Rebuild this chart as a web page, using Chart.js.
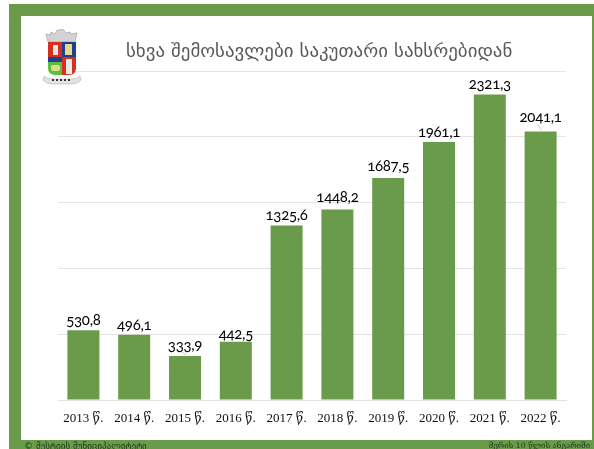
<!DOCTYPE html>
<html lang="ka"><head><meta charset="utf-8">
<script src="https://cdn.jsdelivr.net/npm/chart.js@4"></script>
<style>
html,body{margin:0;padding:0;background:#fff;width:594px;height:449px;overflow:hidden}
#frame{position:absolute;left:9px;top:4px;width:585px;height:445px;background:#699b4b}
#inner{position:absolute;left:21px;top:16px;width:571px;height:424px;background:#fff}
canvas{position:absolute;left:0;top:0;font-feature-settings:"onum" 1;font-variant-numeric:oldstyle-nums}
.t{position:absolute;white-space:nowrap}
#title{left:126px;top:39px;font:18.9px "DejaVu Sans";color:#595959}
#fl{left:24px;top:441px;font:9.1px "DejaVu Sans";color:#263a1c;height:8px;overflow:hidden}
#fr{right:4px;top:441px;font:7.8px "DejaVu Serif","DejaVu Sans";color:#263a1c;height:8px;overflow:hidden}
#crest{position:absolute;left:42px;top:29px}
</style></head><body>
<div id="frame"></div><div id="inner"></div>
<canvas id="c" width="594" height="449"></canvas>
<svg id="crest" width="40" height="56" viewBox="0 0 40 56">
<defs><clipPath id="sh"><path d="M6 13h28v26q0 7-7 7H13q-7 0-7-7z"/></clipPath></defs>
<path d="M4 5l4 1 1-3 4 2 2-4h3l1-1 3 1 2 3 4-1 1 2 6-1-2 9H6z" fill="#d2d2d2" stroke="#9a9a9a" stroke-width=".6"/>
<g clip-path="url(#sh)">
<rect x="6" y="13" width="14" height="15" fill="#d7301f"/>
<rect x="20" y="13" width="14" height="15" fill="#1f3f95"/>
<rect x="6" y="28" width="14" height="18" fill="#5bbf3f"/>
<rect x="6" y="28" width="14" height="5" fill="#1f3f95"/>
<rect x="20" y="28" width="14" height="18" fill="#d7301f"/>
<rect x="11" y="16" width="5" height="10" fill="#e8e8e8"/>
<rect x="23" y="15" width="7" height="11" fill="#e9d98a"/>
<rect x="9" y="36" width="9" height="6" rx="2" fill="#e9d98a"/>
<rect x="24" y="30" width="6" height="15" fill="#e8e8e8"/>
</g>
<path d="M2 47q3 3 8 3h20q5 0 8-3l1 4q-3 4-9 4H10q-6 0-9-4z" fill="#e2e2e2" stroke="#a5a5a5" stroke-width=".5"/>
<path d="M10 50h20" stroke="#333" stroke-width="2" stroke-dasharray="2 2" transform="translate(0 1)"/>
</svg>
<div class="t" id="title">სხვა შემოსავლები საკუთარი სახსრებიდან</div>
<div class="t" id="fl">© მესტიის მუნიციპალიტეტი</div>
<div class="t" id="fr">მერის 10 წლის ანგარიში</div>
<script>
const categories = ["2013 წ.","2014 წ.","2015 წ.","2016 წ.","2017 წ.","2018 წ.","2019 წ.","2020 წ.","2021 წ.","2022 წ."];
const values = [530.8,496.1,333.9,442.5,1325.6,1448.2,1687.5,1961.1,2321.3,2041.1];
const valueLabels = ["530,8","496,1","333,9","442,5","1325,6","1448,2","1687,5","1961,1","2321,3","2041,1"];
const labelGaps = [10,10,11,8,10,12,12,10,10,14];
const leaderBars = [2,9];
const green = "#699b4b";

const barLabels = {
  id:"barLabels",
  afterDatasetsDraw(chart){
    const ctx = chart.ctx;
    const bars = chart.getDatasetMeta(0).data;
    ctx.save();
    ctx.font = '15px Lato, "Open Sans", sans-serif';
    ctx.letterSpacing = "-0.3px";
    ctx.fillStyle = "#000";
    ctx.textAlign = "center";
    ctx.textBaseline = "middle";
    bars.forEach((b,i)=>{
      const y = b.y - labelGaps[i];
      ctx.fillText(valueLabels[i], b.x, y);
      if (leaderBars.includes(i)) {
        ctx.strokeStyle = "#c8c8c8";
        ctx.lineWidth = 1;
        ctx.beginPath();
        ctx.moveTo(b.x-3, y+7);
        ctx.lineTo(b.x+1, b.y-1);
        ctx.stroke();
      }
    });
    ctx.restore();
  }
};

new Chart(document.getElementById("c"),{
  type:"bar",
  data:{labels:categories,datasets:[{data:values,backgroundColor:green,borderWidth:0,barPercentage:0.63,categoryPercentage:1}]},
  plugins:[barLabels],
  options:{
    responsive:false,animation:false,
    layout:{padding:{left:58,right:28,top:71,bottom:0}},
    plugins:{legend:{display:false},tooltip:{enabled:false},title:{display:false}},
    scales:{
      x:{
        afterFit(s){s.height=49},
        grid:{display:false,drawTicks:false},
        border:{color:"#e2e2e2",width:1},
        ticks:{color:"#111",font:{family:'"Liberation Serif","DejaVu Serif",serif',size:13},padding:11,maxRotation:0,autoSkip:false}
      },
      y:{
        min:0,max:2500,
        afterFit(s){s.width=0},
        ticks:{display:false,stepSize:500},
        grid:{color:"#e4e4e4",lineWidth:1,drawTicks:false},
        border:{display:false}
      }
    }
  }
});
</script>
</body></html>
